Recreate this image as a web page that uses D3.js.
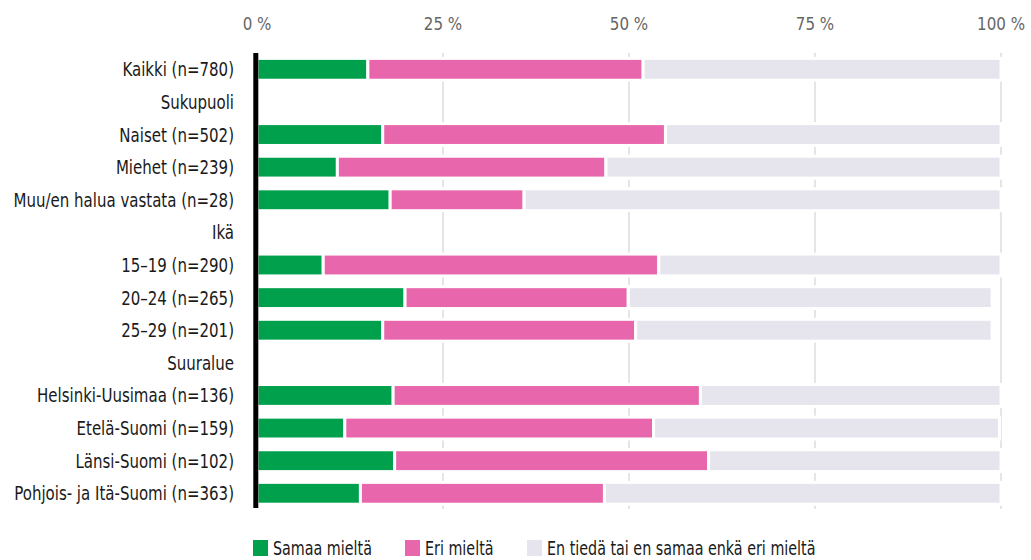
<!DOCTYPE html>
<html>
<head>
<meta charset="utf-8">
<script src="https://cdn.jsdelivr.net/npm/d3@7"></script>
<style>
  body { margin: 0; background: #fff; }
  svg text { font-family: "DejaVu Sans", sans-serif; font-stretch: condensed; }
</style>
</head>
<body>
<div id="chart"></div>
<script>
// Data
const categories = [
    "Kaikki (n=780)", "Sukupuoli", "Naiset (n=502)", "Miehet (n=239)", "Muu/en halua vastata (n=28)",
    "Ikä", "15–19 (n=290)", "20–24 (n=265)", "25–29 (n=201)",
    "Suuralue", "Helsinki-Uusimaa (n=136)", "Etelä-Suomi (n=159)", "Länsi-Suomi (n=102)", "Pohjois- ja Itä-Suomi (n=363)"
];
const samaaMielta = [14.9, null, 16.9, 10.8, 17.9, null, 8.9, 19.9, 16.9, null, 18.3, 11.8, 18.5, 13.9];
const eriMielta   = [37.0, null, 38.0, 36.1, 18.0, null, 45.1, 30.0, 34.0, null, 41.3, 41.5, 42.2, 32.8];
const enTieda     = [48.1, null, 45.1, 53.1, 64.1, null, 46.0, 48.9, 47.9, null, 40.4, 46.5, 39.3, 53.3];
const seriesNames = ["Samaa mieltä", "Eri mieltä", "En tiedä tai en samaa enkä eri mieltä"];
const colors = ["#00a04c", "#e866ab", "#e6e4ec"];
const xTicks = [0, 25, 50, 75, 100];

const width = 1031, height = 560;

const svg = d3.select("#chart")
    .append("svg")
    .attr("width", width)
    .attr("height", height);

const x = d3.scaleLinear().domain([0, 100]).range([257, 1001]);
const y = d3.scaleBand().domain(categories).range([53, 509.6])
    .paddingInner(0.33).paddingOuter(0.165);

// squeeze a text selection horizontally so that a reference text gets the wanted width
function squeeze(sel, refText, wantWidth) {
    let w = null;
    sel.each(function(d) {
        if (d3.select(this).text() === refText) w = this.getComputedTextLength();
    });
    const s = w ? Math.min(1, wantWidth / w) : 1;
    sel.each(function() {
        const t = d3.select(this);
        const tx = +t.attr("x"), ty = +t.attr("y");
        t.attr("x", 0).attr("y", 0)
         .attr("transform", `translate(${tx},${ty}) scale(${s},1)`);
    });
}

// gridlines
svg.append("g")
    .selectAll("line")
    .data(xTicks.slice(1))
    .enter()
    .append("line")
    .attr("x1", d => x(d)).attr("x2", d => x(d))
    .attr("y1", 53).attr("y2", 509)
    .attr("stroke", "#dcdcdc")
    .attr("stroke-width", 1.5);

// top axis labels
const tickLabels = svg.append("g")
    .selectAll("text")
    .data(xTicks)
    .enter()
    .append("text")
    .attr("x", d => x(d))
    .attr("y", 30)
    .attr("text-anchor", "middle")
    .attr("fill", "#666")
    .style("font-size", "18px")
    .text(d => d + " %");
squeeze(tickLabels, "100 %", 48);

// stacked bars
const rows = categories.map((c, i) => ({
    cat: c,
    vals: [samaaMielta[i], eriMielta[i], enTieda[i]]
})).filter(r => r.vals[0] != null);

rows.forEach(r => {
    let start = 0;
    r.vals.forEach((v, k) => {
        svg.append("rect")
            .attr("x", x(start))
            .attr("y", y(r.cat))
            .attr("width", x(start + v) - x(start))
            .attr("height", y.bandwidth())
            .attr("fill", colors[k])
            .attr("stroke", "#fff")
            .attr("stroke-width", 3);
        start += v;
    });
});

// category labels
const catLabels = svg.append("g")
    .selectAll("text")
    .data(categories)
    .enter()
    .append("text")
    .attr("x", 234)
    .attr("y", d => y(d) + y.bandwidth() / 2 + 7)
    .attr("text-anchor", "end")
    .attr("fill", "#1a1a1a")
    .style("font-size", "19.5px")
    .text(d => d);
squeeze(catLabels, "Pohjois- ja Itä-Suomi (n=363)", 220);

// black baseline
svg.append("line")
    .attr("x1", x(0) - 1.2).attr("x2", x(0) - 1.2)
    .attr("y1", 53).attr("y2", 508)
    .attr("stroke", "#000")
    .attr("stroke-width", 5);

// legend
const legendX = [253, 405, 527];
const legend = svg.append("g")
    .selectAll("g")
    .data(seriesNames)
    .enter()
    .append("g")
    .attr("transform", (d, i) => `translate(${legendX[i]},540)`);
legend.append("rect")
    .attr("width", 15).attr("height", 16)
    .attr("fill", (d, i) => colors[i]);
const legendText = legend.append("text")
    .attr("x", 20)
    .attr("y", 15)
    .attr("fill", "#1a1a1a")
    .style("font-size", "20px")
    .text(d => d);
squeeze(legendText, "Samaa mieltä", 99);
</script>
</body>
</html>
